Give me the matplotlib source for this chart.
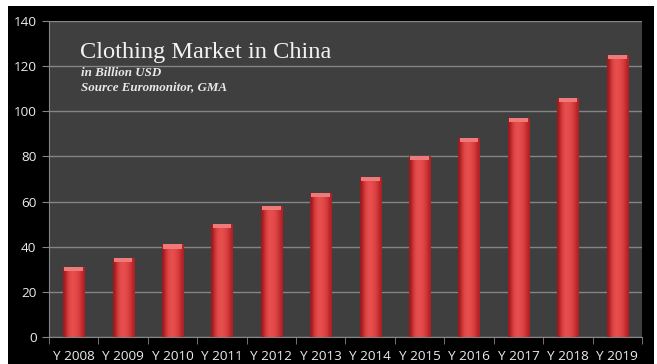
import numpy as np
import matplotlib
matplotlib.use('Agg')
import matplotlib.pyplot as plt
from matplotlib.patches import Rectangle

years = ['Y 2008', 'Y 2009', 'Y 2010', 'Y 2011', 'Y 2012', 'Y 2013',
         'Y 2014', 'Y 2015', 'Y 2016', 'Y 2017', 'Y 2018', 'Y 2019']
market = [31, 35, 41, 50, 58, 64, 71, 80, 88, 97, 106, 125]

W, H = 657, 364
fig = plt.figure(figsize=(W / 100, H / 100), dpi=100, facecolor='white')
# black panel behind the chart
fig.patches.append(Rectangle((8 / W, 0), 646 / W, 358 / H, transform=fig.transFigure,
                             facecolor='black', edgecolor='none', zorder=-10))

ax = fig.add_axes([49 / W, (H - 337) / H, (642 - 49) / W, (337 - 21) / H])
ax.set_facecolor('#3f3f3f')

x = np.arange(len(years))
bars = ax.bar(x, market, width=0.43, color='#c8282c', zorder=3)

# cylinder-like shading: horizontal gradient clipped to each bar
grad = np.array([[0.5, 0.8, 0.95, 1.0, 0.97, 0.9, 0.8, 0.6]])
cmap = matplotlib.colors.LinearSegmentedColormap.from_list(
    'red', ['#7a1012', '#c02428', '#e8504f'])
for b in bars:
    x0, w, h = b.get_x(), b.get_width(), b.get_height()
    im = ax.imshow(grad, extent=(x0, x0 + w, 0, h), aspect='auto', cmap=cmap,
                   vmin=0.35, vmax=1.0, zorder=4, interpolation='bicubic')
    im.set_clip_path(b)
    # lighter top cap
    ax.add_patch(Rectangle((x0 + w * 0.06, h - 1.8), w * 0.88, 1.8,
                           facecolor='#ee7a7a', edgecolor='none', zorder=5))

ax.set_xlim(-0.5, len(years) - 0.5)
ax.set_ylim(0, 140)
ax.set_yticks(range(0, 141, 20))
ax.yaxis.grid(True, color='#858585', linewidth=1.0, zorder=1)
ax.set_axisbelow(True)

ax.set_xticks(x)
ax.set_xticklabels(years)
ax.set_xticks(np.arange(-0.5, len(years), 1.0), minor=True)
ax.tick_params(axis='x', which='major', length=0, pad=9, labelsize=9.7,
               labelcolor='#ececec')
ax.tick_params(axis='x', which='minor', length=5, color='#858585', direction='out')
ax.tick_params(axis='y', length=5, color='#858585', labelsize=9.7,
               labelcolor='#ececec', pad=4)
for lab in ax.get_xticklabels() + ax.get_yticklabels():
    lab.set_family('Open Sans')

for s in ['top', 'right']:
    ax.spines[s].set_visible(False)
for s in ['left', 'bottom']:
    ax.spines[s].set_color('#858585')

ax.text(0.053, 0.883, 'Clothing Market in China', transform=ax.transAxes,
        family='Liberation Serif', fontsize=17.6, color='#f2f2f2', va='baseline')
ax.text(0.054, 0.827, 'in Billion USD', transform=ax.transAxes,
        family='Liberation Serif', style='italic', weight='bold', fontsize=9.4,
        color='#e8e8e8', va='baseline')
ax.text(0.054, 0.782, 'Source Euromonitor, GMA', transform=ax.transAxes,
        family='Liberation Serif', style='italic', weight='bold', fontsize=9.4,
        color='#e8e8e8', va='baseline')

fig.savefig('out.png', dpi=100, facecolor='white')
